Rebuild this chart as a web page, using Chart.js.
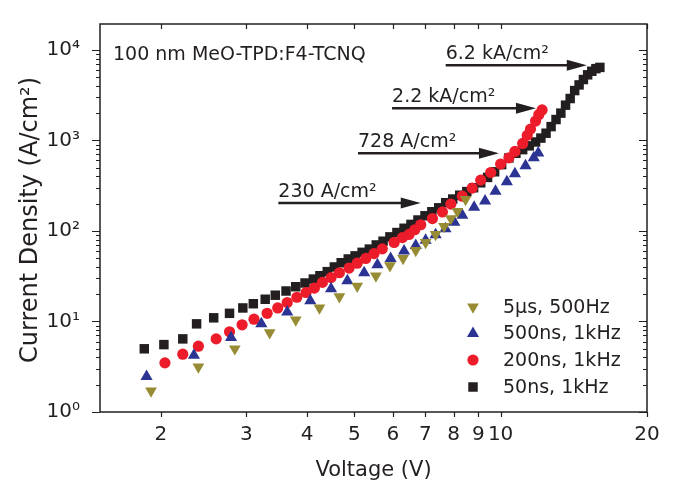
<!DOCTYPE html>
<html>
<head>
<meta charset="utf-8">
<script src="https://cdn.jsdelivr.net/npm/chart.js@4.4.0/dist/chart.umd.min.js"></script>
<style>
  html, body { margin: 0; padding: 0; background: #fff; }
</style>
</head>
<body>
<canvas id="myChart" width="674" height="491"></canvas>
<script>
// 5us, 500Hz
const v5us = [1.91, 2.39, 2.84, 3.35, 3.79, 4.24, 4.66, 5.07, 5.54, 5.92, 6.30, 6.69, 7.01, 7.35, 7.65, 7.90, 8.15, 8.47]
const j5us = [1.71, 3.14, 4.99, 7.50, 10.4, 14.1, 18.8, 24.5, 31.8, 41.3, 49.7, 61.0, 74.6, 91.4, 112, 137, 164, 223]

// 500ns, 1kHz
const v500ns = [1.87, 2.34, 2.79, 3.22, 3.64, 4.06, 4.48, 4.84, 5.24, 5.58, 5.94, 6.33, 6.69, 7.01, 7.35, 7.70, 8.03, 8.34, 8.82, 9.29, 9.76, 10.3, 10.7, 11.25, 11.7, 11.95]
const j500ns = [2.46, 4.24, 6.64, 9.41, 12.7, 16.9, 23.0, 28.2, 34.5, 42.3, 49.7, 60, 69, 79, 91, 106, 125, 149, 183, 214, 274, 349, 428, 524, 642, 725]

// 200ns, 1kHz
const v200ns = [2.04, 2.22, 2.39, 2.60, 2.77, 2.94, 3.11, 3.31, 3.48, 3.64, 3.81, 3.98, 4.14, 4.30, 4.48, 4.66, 4.88, 5.07, 5.28, 5.49, 5.71, 6.04, 6.28, 6.48, 6.66, 6.85, 7.24, 7.59, 7.90, 8.34, 8.74, 9.10, 9.54, 10.0, 10.4, 10.7, 11.1, 11.34, 11.52, 11.80, 11.98, 12.17]
const j200ns = [3.49, 4.35, 5.33, 6.42, 7.69, 9.18, 10.6, 12.3, 14.1, 16.2, 18.5, 20.9, 23.4, 27.0, 30.5, 34.5, 38.9, 44.0, 49.7, 56.1, 63.4, 74.6, 84.3, 91.4, 103, 117, 137, 162, 198, 242, 297, 364, 442, 547, 642, 755, 925, 1135, 1333, 1636, 1921, 2170]

// 50ns, 1kHz
const v50ns = [1.85, 2.03, 2.22, 2.37, 2.57, 2.77, 2.95, 3.10, 3.28, 3.44, 3.62, 3.79, 3.96, 4.12, 4.25, 4.40, 4.55, 4.70, 4.86, 5.02, 5.19, 5.37, 5.55, 5.73, 5.92, 6.12, 6.33, 6.54, 6.76, 6.99, 7.22, 7.46, 7.71, 7.97, 8.24, 8.52, 8.80, 9.10, 9.40, 9.72, 10.05, 10.4, 10.75, 11.1, 11.45, 11.8, 12.1, 12.4, 12.7, 13.0, 13.3, 13.6, 13.9, 14.2, 14.5, 14.8, 15.1, 15.4, 15.7, 16.0]
const j50ns = [4.99, 5.55, 6.42, 9.41, 10.97, 12.3, 14.1, 15.7, 17.6, 19.5, 21.7, 24.2, 26.6, 29.4, 32, 35.5, 40, 44.5, 49, 53, 58, 63, 70, 77, 86, 96, 107, 118, 132, 147, 163, 180, 205, 225, 248, 272, 300, 340, 390, 450, 540, 640, 720, 790, 870, 960, 1060, 1200, 1420, 1700, 2000, 2450, 2900, 3550, 4100, 4700, 5300, 5800, 6200, 6400]

const xTicks = [2, 3, 4, 5, 6, 7, 8, 9, 10, 20]
const yTicks = [1, 10, 100, 1000, 10000]
const yTickLabels = ['10\u2070', '10\u00b9', '10\u00b2', '10\u00b3', '10\u2074']

// arrows: [label, start voltage, end voltage, current density]
const arrowNotes = [
  ['6.2 kA/cm\u00b2', 7.71, 15.04, 6770],
  ['2.2 kA/cm\u00b2', 5.98, 11.82, 2262],
  ['728 A/cm\u00b2', 5.09, 9.92, 719],
  ['230 A/cm\u00b2', 3.49, 6.85, 203]
]

const FONT = '"DejaVu Sans", sans-serif'
const INK = '#231f20'

function pts(xs, ys) {
  return xs.map((x, i) => ({x: x, y: ys[i]}))
}

const datasets = [
  {label: '5\u00b5s, 500Hz', data: pts(v5us, j5us), pointStyle: 'triangle', rotation: 180,
   backgroundColor: '#978c33', borderColor: '#978c33', pointRadius: 6.8, order: 1},
  {label: '500ns, 1kHz', data: pts(v500ns, j500ns), pointStyle: 'triangle', rotation: 0,
   backgroundColor: '#2b3393', borderColor: '#2b3393', pointRadius: 7, order: 2},
  {label: '200ns, 1kHz', data: pts(v200ns, j200ns), pointStyle: 'circle', rotation: 0,
   backgroundColor: '#ec1c2a', borderColor: '#ec1c2a', pointRadius: 5.6, order: 3},
  {label: '50ns, 1kHz', data: pts(v50ns, j50ns), pointStyle: 'rect', rotation: 0,
   backgroundColor: INK, borderColor: INK, pointRadius: 6.7, order: 4}
]
datasets.forEach(d => { d.pointBorderWidth = 0; d.pointHoverRadius = d.pointRadius })

// small marker for the legend, same shapes as chart.js draws
function legendMarker(ctx, d, x, y) {
  if (Chart.helpers && Chart.helpers.drawPoint) {
    Chart.helpers.drawPoint(ctx, {pointStyle: d.pointStyle, rotation: d.rotation, radius: d.pointRadius, borderWidth: 0}, x, y)
    return
  }
  const r = d.pointRadius
  ctx.beginPath()
  if (d.pointStyle === 'circle') {
    ctx.arc(x, y, r, 0, Math.PI * 2)
  } else if (d.pointStyle === 'rect') {
    const s = r * Math.SQRT1_2
    ctx.rect(x - s, y - s, 2 * s, 2 * s)
  } else {
    let a = d.rotation * Math.PI / 180
    for (let k = 0; k < 3; k++) {
      const px = x + Math.sin(a) * r, py = y - Math.cos(a) * r
      k === 0 ? ctx.moveTo(px, py) : ctx.lineTo(px, py)
      a += 2 * Math.PI / 3
    }
    ctx.closePath()
  }
  ctx.fill()
}

// frame, mirrored ticks, notes and legend
const decorations = {
  id: 'decorations',
  afterDraw(chart) {
    const ctx = chart.ctx
    const {left, right, top, bottom} = chart.chartArea
    const xs = chart.scales.x, ys = chart.scales.y
    ctx.save()
    ctx.strokeStyle = INK
    ctx.fillStyle = INK
    ctx.lineWidth = 1.5
    ctx.strokeRect(left, top, right - left, bottom - top)

    ctx.lineWidth = 1.2
    ctx.beginPath()
    for (let n = 0; n <= 4; n++) {
      for (let m = 1; m <= 9; m++) {
        const v = m * Math.pow(10, n)
        if (v > ys.max) continue
        const py = Math.round(ys.getPixelForValue(v)) + 0.5
        const len = m === 1 ? 8 : 4
        ctx.moveTo(left, py); ctx.lineTo(left - len, py)
        ctx.moveTo(right, py); ctx.lineTo(right - len, py)
      }
    }
    xTicks.forEach(v => {
      const px = Math.round(xs.getPixelForValue(v)) + 0.5
      ctx.moveTo(px, bottom); ctx.lineTo(px, bottom + 5)
      ctx.moveTo(px, top); ctx.lineTo(px, top + 5)
    })
    ctx.stroke()

    // y title
    ctx.save()
    ctx.translate(31, 220)
    ctx.rotate(-Math.PI / 2)
    ctx.font = '24px ' + FONT
    ctx.textAlign = 'center'
    ctx.textBaseline = 'middle'
    ctx.fillText('Current Density (A/cm\u00b2)', 0, 0)
    ctx.restore()

    ctx.font = '19px ' + FONT
    ctx.textAlign = 'left'
    ctx.textBaseline = 'alphabetic'
    ctx.fillText('100 nm MeO-TPD:F4-TCNQ', left + 13, top + 36)

    arrowNotes.forEach(([txt, v0, v1, j]) => {
      const x0 = xs.getPixelForValue(v0)
      const x1 = xs.getPixelForValue(v1)
      const y = ys.getPixelForValue(j)
      ctx.lineWidth = 2.5
      ctx.beginPath()
      ctx.moveTo(x0, y); ctx.lineTo(x1 - 15, y)
      ctx.stroke()
      ctx.beginPath()
      ctx.moveTo(x1, y); ctx.lineTo(x1 - 20, y - 5.5); ctx.lineTo(x1 - 20, y + 5.5)
      ctx.closePath()
      ctx.fill()
      ctx.fillText(txt, x0, y - 6)
    })

    // legend
    const lx = right - 174
    const rows = [bottom - 105, bottom - 78.5, bottom - 52, bottom - 25]
    ctx.font = '19px ' + FONT
    ctx.textBaseline = 'middle'
    datasets.forEach((d, i) => {
      ctx.fillStyle = d.backgroundColor
      legendMarker(ctx, d, lx, rows[i])
      ctx.fillStyle = INK
      ctx.fillText(d.label, lx + 30, rows[i] + 1)
    })
    ctx.restore()
  }
}

new Chart(document.getElementById('myChart'), {
  type: 'scatter',
  data: {datasets: datasets},
  plugins: [decorations],
  options: {
    responsive: false,
    animation: false,
    layout: {padding: {top: 7, right: 27, left: 0, bottom: 0}},
    plugins: {
      legend: {display: false},
      tooltip: {enabled: false}
    },
    scales: {
      x: {
        type: 'logarithmic',
        min: 1.5,
        max: 20,
        grid: {display: false},
        border: {display: false},
        afterBuildTicks: s => { s.ticks = xTicks.map(v => ({value: v})) },
        afterFit: s => { s.height = 79 },
        ticks: {
          autoSkip: false,
          maxRotation: 0,
          padding: 3,
          color: INK,
          font: {family: FONT, size: 20},
          callback: v => String(v)
        },
        title: {
          display: true,
          text: 'Voltage (V)',
          color: INK,
          font: {family: FONT, size: 21},
          padding: {top: 0, bottom: 8}
        }
      },
      y: {
        type: 'logarithmic',
        min: 1,
        max: 19300,
        grid: {display: false},
        border: {display: false},
        afterBuildTicks: s => { s.ticks = yTicks.map(v => ({value: v})) },
        afterFit: s => { s.width = 100 },
        ticks: {
          padding: 12,
          color: INK,
          font: {family: FONT, size: 20},
          callback: (v) => yTickLabels[yTicks.indexOf(v)]
        }
      }
    }
  }
});
</script>
</body>
</html>
